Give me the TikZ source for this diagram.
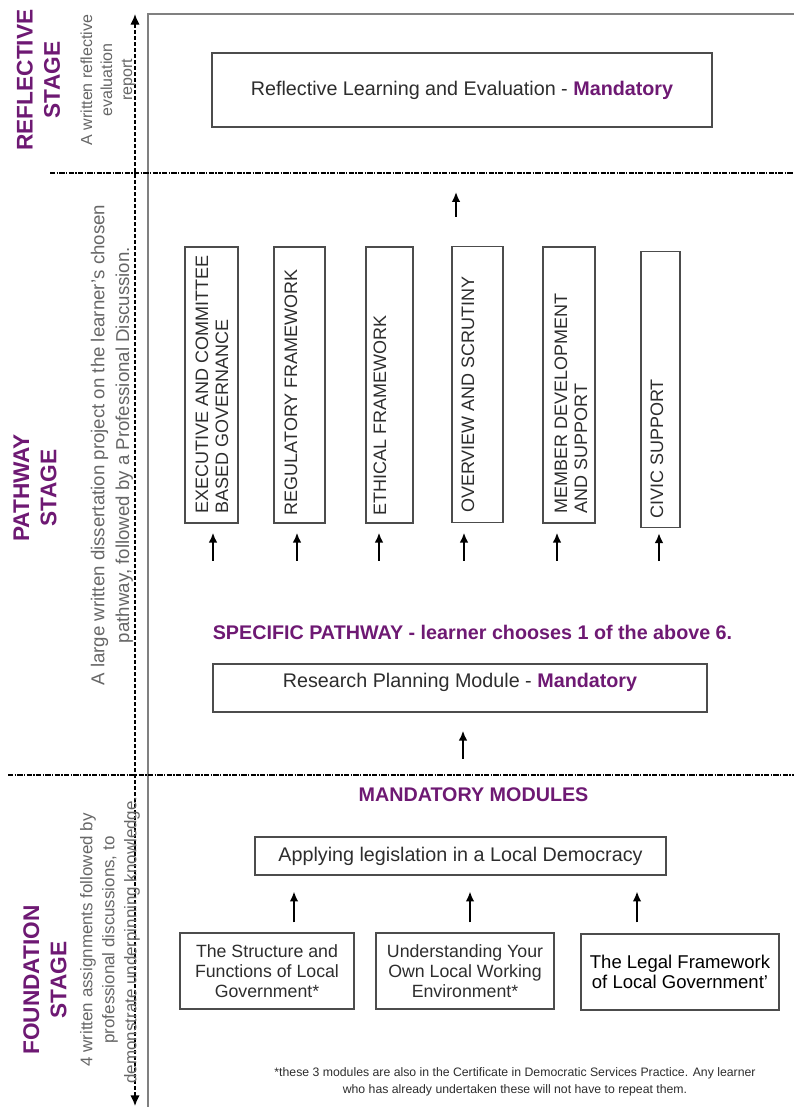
\documentclass[tikz,border=0pt]{standalone}
\usepackage{fontspec}
\setmainfont{Liberation Sans}
\usetikzlibrary{arrows.meta}

\definecolor{plum}{RGB}{110,25,115}
\definecolor{ink}{RGB}{45,45,45}

\tikzset{
  stagename/.style={rotate=90, align=center, text=plum, font=\bfseries\fontsize{17}{20.5}\selectfont},
  stagenote/.style={rotate=90, align=center, text=black!60},
  modbox/.style={draw=black!70, line width=0.9pt, text=ink, align=center, inner sep=0pt, font=\fontsize{14.8}{18}\selectfont},
  pathbox/.style={draw=black!70, line width=0.9pt, minimum height=207pt, inner sep=0pt},
  pathtext/.style={rotate=90, anchor=north west, inner sep=0pt, align=left, text=ink, font=\fontsize{13.5}{15}\selectfont},
  heading/.style={text=plum, font=\bfseries\fontsize{14.8}{18}\selectfont},
  uparrow/.style={-{Latex[length=7.5pt,width=6.5pt]}, line width=1.6pt},
  stageline/.style={line width=1.2pt, dash pattern=on 4pt off 1pt on 1pt off 1pt},
}

\newcommand{\mand}{\textcolor{plum}{\bfseries Mandatory}}

\begin{document}
\begin{tikzpicture}[x=0.75pt,y=-0.75pt]
\useasboundingbox (0,0) rectangle (794,1107);

% frame, stage arrow and stage dividers
\draw[gray, line width=1.2pt] (148,1107) |- (794,14);
\coordinate (top) at (135,14);
\coordinate (bottom) at (135,1106);
\draw[{Latex[length=8pt,width=7pt]}-{Latex[length=8pt,width=7pt]}, line width=1pt, dash pattern=on 3pt off 1.5pt] (top) -- (bottom);
\draw[stageline] (50,173) -- (794,173);
\draw[stageline] (8,775) -- (794,775);

% stage names
\node[stagename] (reflective) at (38.5,80) {REFLECTIVE\\STAGE};
\node[stagename] (pathway) at (35,488) {PATHWAY\\STAGE};
\node[stagename] (foundation) at (45,980) {FOUNDATION\\STAGE};

% assessment of each stage
\node[stagenote, font=\fontsize{12}{15}\selectfont] (reflnote) at (108,80) {A written reflective\\evaluation\\report};
\node[stagenote, font=\fontsize{14}{18.5}\selectfont] (pathnote) at (112,445) {A large written dissertation project on the learner's chosen\\pathway, followed by a Professional Discussion.};
\node[stagenote, font=\fontsize{12.7}{16.5}\selectfont] (foundnote) at (110,940) {4 written assignments followed by\\professional discussions, to\\demonstrate underpinning knowledge.};

% reflective stage
\node[modbox, minimum width=375pt, minimum height=55.5pt] (reflect) at (462,90) {Reflective Learning and Evaluation - \mand};

% pathways
\node[pathbox, minimum width=39.75pt] (exec) at (211.5,385) {};
\node[pathbox, minimum width=38.25pt] (regul) at (299.5,385) {};
\node[pathbox, minimum width=35.25pt] (ethic) at (389.5,385) {};
\node[pathbox, minimum width=38.25pt] (overv) at (477.5,384.5) {};
\node[pathbox, minimum width=39pt] (member) at (569,385) {};
\node[pathbox, minimum width=29.25pt] (civic) at (660.5,389.5) {};
\node[pathtext] (exectext) at ([shift={(11,-10)}]exec.south west) {EXECUTIVE AND COMMITTEE\\BASED GOVERNANCE};
\node[pathtext] (regultext) at ([shift={(11,-8)}]regul.south west) {REGULATORY FRAMEWORK};
\node[pathtext] (ethictext) at ([shift={(8,-8)}]ethic.south west) {ETHICAL FRAMEWORK};
\node[pathtext] (overvtext) at ([shift={(10,-10)}]overv.south west) {OVERVIEW AND SCRUTINY};
\node[pathtext] (membertext) at ([shift={(12,-10)}]member.south west) {MEMBER DEVELOPMENT\\AND SUPPORT};
\node[pathtext] (civictext) at ([shift={(10,-9)}]civic.south west) {CIVIC SUPPORT};
\draw[uparrow] ([shift={(-21.5,-29)}]overv.north) -- ++(0,-25);
\draw[uparrow] ([shift={(1.5,37)}]exec.south) -- ++(0,-28);
\draw[uparrow] ([shift={(-2.5,37)}]regul.south) -- ++(0,-28);
\draw[uparrow] ([shift={(-10.5,37)}]ethic.south) -- ++(0,-28);
\draw[uparrow] ([shift={(-13.5,37.5)}]overv.south) -- ++(0,-28);
\draw[uparrow] ([shift={(-12,37)}]member.south) -- ++(0,-28);
\draw[uparrow] ([shift={(-1.5,33)}]civic.south) -- ++(0,-28);

\node[heading] (specific) at (472.5,632) {SPECIFIC PATHWAY - learner chooses 1 of the above 6.};
\node[modbox, minimum width=370.5pt, minimum height=36pt, text depth=12pt] (research) at (460,688) {Research Planning Module - \mand};
\draw[uparrow] ([shift={(3,46)}]research.south) -- ++(0,-28);

% foundation stage
\node[heading] (mandmods) at (473.5,795) {MANDATORY MODULES};
\node[modbox, minimum width=308.25pt, minimum height=28.5pt] (apply) at (460.5,856) {Applying legislation in a Local Democracy};
\node[modbox, minimum width=130.5pt, minimum height=57pt, font=\fontsize{13.3}{15}\selectfont] (structure) at (267,971) {The Structure and\\Functions of Local\\Government*};
\node[modbox, minimum width=133.5pt, minimum height=57pt, font=\fontsize{13.3}{15}\selectfont] (environment) at (465,971) {Understanding Your\\Own Local Working\\Environment*};
\node[modbox, minimum width=148.5pt, minimum height=57pt, text=black, font=\fontsize{13.9}{15}\selectfont] (legal) at (680,972) {The Legal Framework\\of Local Government’};
\draw[uparrow] ([shift={(27,-10)}]structure.north) -- ++(0,-31);
\draw[uparrow] ([shift={(5,-10)}]environment.north) -- ++(0,-31);
\draw[uparrow] ([shift={(-43,-11)}]legal.north) -- ++(0,-31);

\node[align=center, text=ink, font=\fontsize{9.2}{12.75}\selectfont] (footnote) at (515,1081.5) {*these 3 modules are also in the Certificate in Democratic Services Practice. Any learner\\who has already undertaken these will not have to repeat them.};
\end{tikzpicture}
\end{document}
